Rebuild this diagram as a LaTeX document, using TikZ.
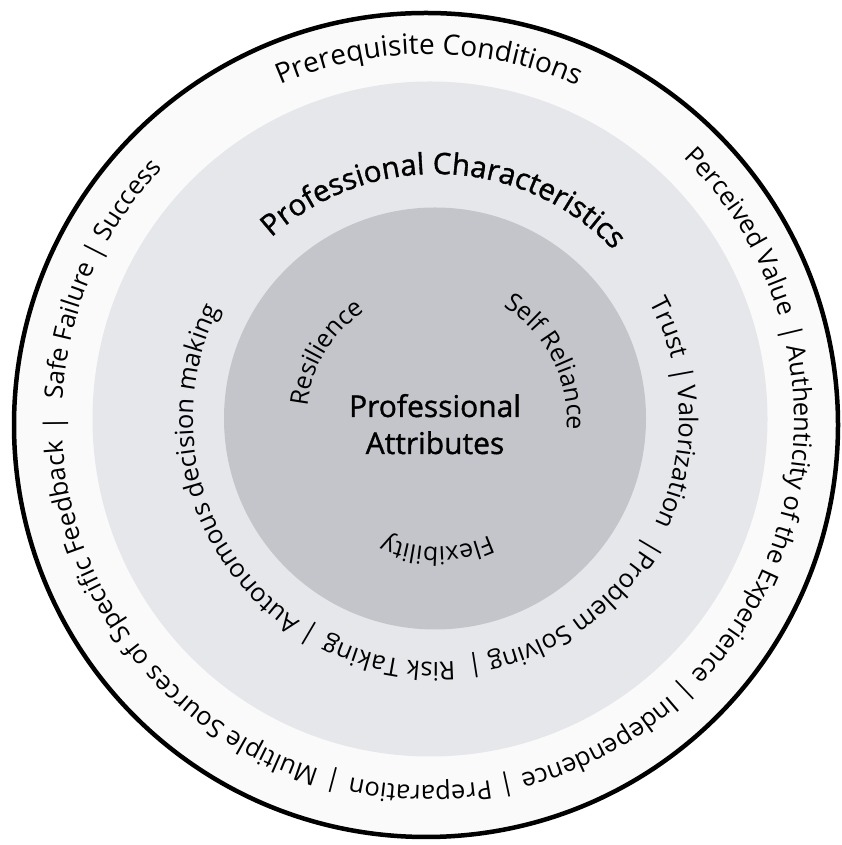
\documentclass[tikz,border=0pt]{standalone}
\usepackage{fontspec}
\setmainfont{Open Sans}
\newfontfamily\headfont[FakeBold=1.2]{Open Sans}
\usetikzlibrary{decorations.text}
\definecolor{outerfill}{RGB}{250,250,250}
\definecolor{midfill}{RGB}{230,231,234}
\definecolor{innerfill}{RGB}{195,197,202}
\newcommand\ringfont{\fontsize{25.5}{30}\selectfont}
\newcommand\topfont{\fontsize{28}{32}\selectfont}
\newcommand\headringfont{\headfont\fontsize{29.5}{34}\selectfont}
\newcommand\innerfont{\fontsize{25}{30}\selectfont}
\newcommand\centerfont{\headfont\fontsize{30}{34}\selectfont}
% #1 font, #2 centre, #3 radius, #4 centre angle, #5 text
\newcommand\arctext[5]{%
  \path[decorate,decoration={text along path,text format delimiters={[}{]},
      text={[#1]#5},text align=center}]
    (#2) ++({#4+90}:#3) arc[start angle={#4+90},end angle={#4-90},radius=#3];}
\begin{document}
\begin{tikzpicture}[x=1pt,y=1pt]
\useasboundingbox (0,0) rectangle (841,845);
\coordinate (O) at (426,420);
\coordinate (T) at (428,425);
\coordinate (M) at (430,426);
\coordinate (MT) at (436,426);
\coordinate (I) at (435,426.5);
\coordinate (IT) at (436,426);
\fill[outerfill] (O) circle[radius=412];
\draw[line width=4.5pt] (O) circle[radius=412];
\fill[midfill] (M) circle[radius=337.5];
\fill[innerfill] (I) circle[radius=211];
% outer ring
\arctext{\topfont}{T}{366}{89.8}{Prerequisite Conditions}
\arctext{\ringfont}{T}{366}{31.1}{Perceived Value}
\arctext{\ringfont}{T}{366}{13.5}{|}
\arctext{\ringfont}{T}{366}{-16.3}{Authenticity of the Experience}
\arctext{\ringfont}{T}{366}{-46.4}{|}
\arctext{\ringfont}{T}{366}{-62.1}{Independence}
\arctext{\ringfont}{T}{366}{-77.8}{|}
\arctext{\ringfont}{T}{366}{-91.2}{Preparation}
\arctext{\ringfont}{T}{366}{-104.8}{|}
\arctext{\ringfont}{T}{366}{-142}{Multiple Sources of Specific Feedback}
\arctext{\ringfont}{T}{366}{180.6}{|}
\arctext{\ringfont}{T}{366}{166}{Safe Failure}
\arctext{\ringfont}{T}{366}{153}{|}
\arctext{\ringfont}{T}{366}{143.8}{Success}
% middle ring
\arctext{\headringfont}{MT}{245}{87.9}{Professional Characteristics}
\arctext{\ringfont}{MT}{243}{21.4}{Trust}
\arctext{\ringfont}{MT}{243}{10.3}{|}
\arctext{\ringfont}{MT}{243}{-9}{Valorization}
\arctext{\ringfont}{MT}{243}{-30.8}{|}
\arctext{\ringfont}{MT}{243}{-55.1}{Problem Solving}
\arctext{\ringfont}{MT}{243}{-81}{|}
\arctext{\ringfont}{MT}{243}{-101.1}{Risk Taking}
\arctext{\ringfont}{MT}{243}{-120.6}{|}
\arctext{\ringfont}{MT}{243}{-165.4}{Autonomous decision making}
% inner circle
\arctext{\innerfont}{IT}{129}{148.9}{Resilience}
\arctext{\innerfont}{IT}{131}{27.2}{Self Reliance}
\arctext{\innerfont}{IT}{128}{-89.5}{Flexibility}
\node[anchor=base,font=\centerfont,inner sep=0pt] (pa1) at (435,428) {Professional};
\node[anchor=base,font=\centerfont,inner sep=0pt] (pa2) at (435,391) {Attributes};
\end{tikzpicture}
\end{document}
